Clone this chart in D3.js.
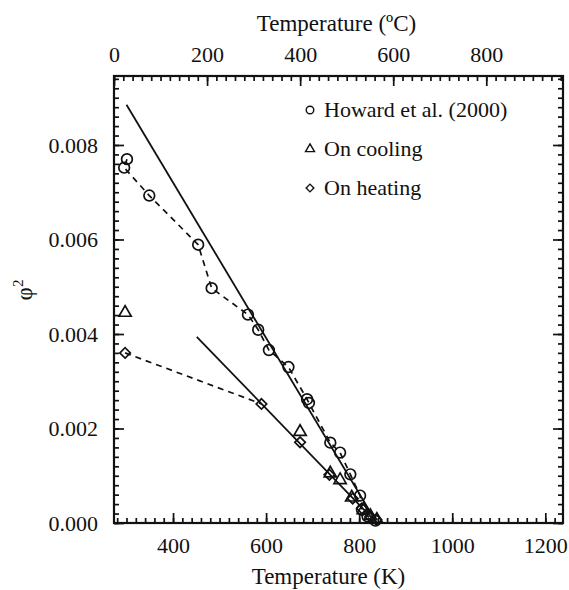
<!DOCTYPE html>
<html>
<head>
<meta charset="utf-8">
<style>
  body { margin: 0; background: #fff; }
  svg text { font-family: "Liberation Serif", "Times New Roman", serif; fill: #111; }
</style>
</head>
<body>
<div id="chart"></div>
<script src="https://d3js.org/d3.v7.min.js"></script>
<script>
// Howard et al. (2000): [T (K), phi^2]
const howard = [[301,0.0077],[295,0.00752],[349,0.00693],[454,0.00589],[483,0.00497],
  [561,0.00441],[583,0.00409],[606,0.00366],[648,0.0033],[688,0.00262],[692,0.00254],
  [738,0.0017],[759,0.00149],[781,0.00103],[802,0.00058],[806,0.00028],[818,0.00014],[835,0.00005]];
const cooling = [[297,0.00445],[673,0.00193],[738,0.00105],[759,0.00091],[784,0.00054],
  [809,0.000275],[824,0.00015],[838,0.00007]];
const heating = [[297,0.0036],[590,0.00252],[673,0.00171],[736,0.00102],[786,0.00052],
  [806,0.00031],[824,0.00013],[837,0.00007]];
// linear fits
const fitHigh = [[300,0.00885],[838,0]];
const fitLow = [[451,0.00394],[838,0]];

const kTicks = [400, 600, 800, 1000, 1200];
const cTicks = [0, 200, 400, 600, 800];
const yTicks = [0, 0.002, 0.004, 0.006, 0.008];

const width = 569, height = 590;
const mLeft = 114, mRight = 563, mTop = 76, mBottom = 523;

const svg = d3.select('#chart').append('svg')
  .attr('width', width).attr('height', height);

const x = d3.scaleLinear().domain([273.15, 1238]).range([mLeft, mRight]);
const xC = d3.scaleLinear().domain([0, 1238 - 273.15]).range([mLeft, mRight]);
const y = d3.scaleLinear().domain([0, 0.00946]).range([mBottom, mTop]);

function minor(start, stop, step) {
  const out = [];
  for (let v = start; v <= stop + 1e-9; v += step) out.push(+v.toFixed(6));
  return out;
}
const kMinor = minor(280, 1220, 20);
const cMinor = minor(0, 960, 20);
const yMinor = minor(0, 0.0094, 0.0002);

function drawAxis(axis, tx, ty) {
  const g = svg.append('g').attr('transform', `translate(${tx},${ty})`).call(axis)
    .attr('font-family', '"Liberation Serif", serif');
  g.select('.domain').remove();
  g.selectAll('line').attr('stroke', '#111').attr('stroke-width', 1.7);
  g.selectAll('text').attr('font-size', 22).attr('fill', '#111');
  return g;
}

// minor ticks
drawAxis(d3.axisBottom(x).tickValues(kMinor).tickSize(-5).tickFormat(''), 0, mBottom);
drawAxis(d3.axisTop(xC).tickValues(cMinor).tickSize(-5).tickFormat(''), 0, mTop);
drawAxis(d3.axisLeft(y).tickValues(yMinor).tickSize(-5).tickFormat(''), mLeft, 0);
drawAxis(d3.axisRight(y).tickValues(yMinor).tickSize(-5).tickFormat(''), mRight, 0);

// major ticks
drawAxis(d3.axisBottom(x).tickValues(kTicks).tickSize(-10).tickPadding(14).tickFormat(d3.format('d')), 0, mBottom);
drawAxis(d3.axisTop(xC).tickValues(cTicks).tickSize(-10).tickPadding(14).tickFormat(d3.format('d')), 0, mTop);
drawAxis(d3.axisLeft(y).tickValues(yTicks).tickSize(-10).tickPadding(16).tickFormat(d3.format('.3f')), mLeft, 0);
drawAxis(d3.axisRight(y).tickValues(yTicks).tickSize(-10).tickFormat(''), mRight, 0);

// frame
svg.append('rect')
  .attr('x', mLeft).attr('y', mTop)
  .attr('width', mRight - mLeft).attr('height', mBottom - mTop)
  .attr('fill', 'none').attr('stroke', '#111').attr('stroke-width', 2.2);

// axis titles
svg.append('text').attr('x', (mLeft + mRight) / 2 - 2).attr('y', 31)
  .attr('text-anchor', 'middle').attr('font-size', 23).text('Temperature (ºC)');
svg.append('text').attr('x', (mLeft + mRight) / 2 - 10).attr('y', 584)
  .attr('text-anchor', 'middle').attr('font-size', 23).text('Temperature (K)');
svg.append('text').attr('transform', 'translate(32,290) rotate(-90)')
  .attr('text-anchor', 'middle').attr('font-size', 23)
  .html('φ<tspan dy="-9" font-size="15">2</tspan>');

const line = d3.line().x(d => x(d[0])).y(d => y(d[1]));

// fitted lines
[fitHigh, fitLow].forEach(f => {
  svg.append('path').datum(f).attr('d', line)
    .attr('fill', 'none').attr('stroke', '#111').attr('stroke-width', 1.8);
});

// dashed connecting lines
svg.append('path').datum(howard).attr('d', line)
  .attr('fill', 'none').attr('stroke', '#111').attr('stroke-width', 1.7)
  .attr('stroke-dasharray', '6,5');
svg.append('path').datum(heating.slice(0, 2)).attr('d', line)
  .attr('fill', 'none').attr('stroke', '#111').attr('stroke-width', 1.7)
  .attr('stroke-dasharray', '6,5');

const circleSym = d3.symbol().type(d3.symbolCircle).size(90);
const triSym = d3.symbol().type(d3.symbolTriangle).size(65);
const diaSym = d3.symbol().type(d3.symbolSquare).size(55);

function markers(data, sym, rot) {
  svg.append('g').selectAll('path')
    .data(data)
    .enter()
    .append('path')
    .attr('d', sym)
    .attr('transform', d => `translate(${x(d[0])},${y(d[1])}) rotate(${rot})`)
    .attr('fill', 'none')
    .attr('stroke', '#111')
    .attr('stroke-width', 1.7);
}
markers(howard, circleSym, 0);
markers(cooling, triSym, 0);
markers(heating, diaSym, 45);

// legend
const legend = [
  { label: 'Howard et al. (2000)', sym: d3.symbol().type(d3.symbolCircle).size(45), rot: 0 },
  { label: 'On cooling', sym: d3.symbol().type(d3.symbolTriangle).size(35), rot: 0 },
  { label: 'On heating', sym: d3.symbol().type(d3.symbolSquare).size(30), rot: 45 }
];
legend.forEach((l, i) => {
  const ly = 110 + i * 39;
  svg.append('path').attr('d', l.sym)
    .attr('transform', `translate(310,${ly}) rotate(${l.rot})`)
    .attr('fill', 'none').attr('stroke', '#111').attr('stroke-width', 1.4);
  svg.append('text').attr('x', 324).attr('y', ly + 7)
    .attr('font-size', 22).text(l.label);
});
</script>
</body>
</html>
